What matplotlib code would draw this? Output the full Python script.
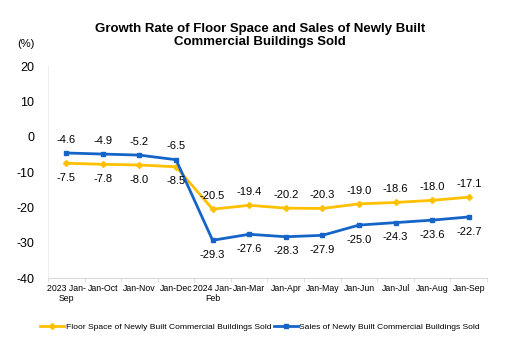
import matplotlib
matplotlib.use("Agg")
import numpy as np
from matplotlib import pyplot as plt

plt.rcParams['font.family'] = ['Liberation Sans', 'DejaVu Sans']
plt.rcParams['axes.unicode_minus'] = False

# Data
months = ['2023 Jan-\nSep', 'Jan-Oct', 'Jan-Nov', 'Jan-Dec', '2024 Jan-\nFeb', 'Jan-Mar',
          'Jan-Apr', 'Jan-May', 'Jan-Jun', 'Jan-Jul', 'Jan-Aug', 'Jan-Sep']
floor_space = [-7.5, -7.8, -8.0, -8.5, -20.5, -19.4, -20.2, -20.3, -19.0, -18.6, -18.0, -17.1]
sales = [-4.6, -4.9, -5.2, -6.5, -29.3, -27.6, -28.3, -27.9, -25.0, -24.3, -23.6, -22.7]

x = np.arange(len(months))
yellow = '#FFC000'
blue = '#1565C8'

fig = plt.figure(figsize=(5.1, 3.57), dpi=100)
ax = fig.add_axes([0.094, 0.221, 0.861, 0.594])

ax.plot(x, floor_space, color=yellow, lw=2, marker='D', ms=3, label='Floor Space of Newly Built Commercial Buildings Sold')
ax.plot(x, sales, color=blue, lw=2, marker='s', ms=3, label='Sales of Newly Built Commercial Buildings Sold')

# Data labels
for i in x:
    if i < 4:
        ax.annotate(f'{sales[i]:.1f}', (i, sales[i]), xytext=(0, 6), textcoords='offset points',
                    ha='center', va='bottom', fontsize=8)
        ax.annotate(f'{floor_space[i]:.1f}', (i, floor_space[i]), xytext=(0, -7), textcoords='offset points',
                    ha='center', va='top', fontsize=8)
    else:
        ax.annotate(f'{floor_space[i]:.1f}', (i, floor_space[i]), xytext=(0, 6), textcoords='offset points',
                    ha='center', va='bottom', fontsize=8)
        ax.annotate(f'{sales[i]:.1f}', (i, sales[i]), xytext=(0, -7), textcoords='offset points',
                    ha='center', va='top', fontsize=8)

ax.set_ylim(-40, 20)
ax.set_yticks([-40, -30, -20, -10, 0, 10, 20])
ax.set_xlim(-0.5, len(months) - 0.5)
ax.set_xticks(x)
ax.set_xticklabels(months, fontsize=6.3)
ax.set_xticks(np.arange(-0.5, len(months)), minor=True)
ax.tick_params(axis='x', which='major', length=0, pad=4)
ax.tick_params(axis='x', which='minor', length=3, color='#d9d9d9')
ax.tick_params(axis='y', length=0, labelsize=9, pad=10)

for s in ['top', 'right']:
    ax.spines[s].set_visible(False)
ax.spines['left'].set_color('#eeeeee')
ax.spines['bottom'].set_color('#d9d9d9')

fig.text(0.51, 0.9, 'Growth Rate of Floor Space and Sales of Newly Built\nCommercial Buildings Sold',
         ha='center', va='center', fontsize=9.5, fontweight='bold', linespacing=1.1)
fig.text(0.05, 0.878, '(%)', ha='center', va='center', fontsize=8)

fig.legend(loc='center', bbox_to_anchor=(0.51, 0.085), ncol=2, frameon=False, fontsize=6.1,
           handlelength=2.8, handletextpad=0.2, columnspacing=0.3)

fig.savefig('out.png', dpi=100)
